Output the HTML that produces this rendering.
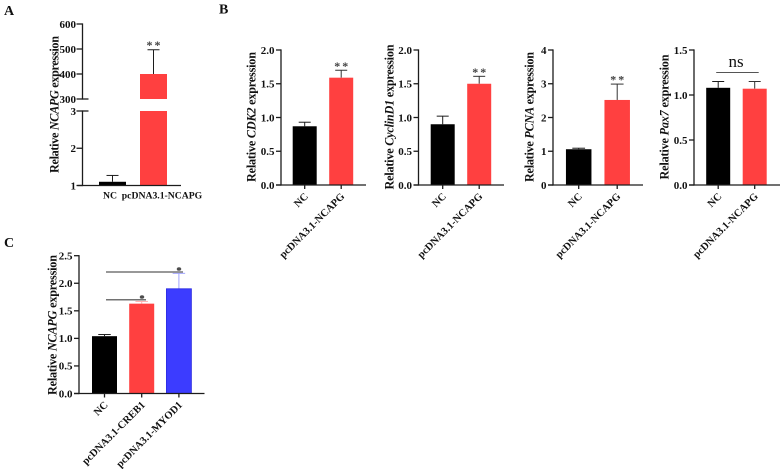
<!DOCTYPE html>
<html>
<head>
<meta charset="utf-8">
<style>
html,body{margin:0;padding:0;background:#fff;}
svg{display:block;filter:blur(0.35px);}
text{font-family:"Liberation Serif",serif;fill:#111;font-weight:bold;}
</style>
</head>
<body>
<svg id="figure" width="784" height="469" viewBox="0 0 784 469" xmlns="http://www.w3.org/2000/svg"></svg>
<script>
var categoriesPair = ['NC', 'pcDNA3.1-NCAPG'];
var categoriesC = ['NC', 'pcDNA3.1-CREB1', 'pcDNA3.1-MYOD1'];

var valuesA = [1.1, 400];
var errorsA = [1.27, 497];
var lowerTicksA = [1, 2, 3];
var upperTicksA = [300, 400, 500, 600];

var valuesCDK2 = [0.87, 1.59];
var errorsCDK2 = [0.93, 1.70];
var valuesCyclin = [0.90, 1.50];
var errorsCyclin = [1.02, 1.61];
var valuesPCNA = [1.06, 2.52];
var errorsPCNA = [1.09, 2.99];
var valuesPax7 = [1.08, 1.07];
var errorsPax7 = [1.15, 1.15];
var valuesC = [1.04, 1.63, 1.90];
var errorsC = [1.07, 1.67, 2.18];

var ticksTwo = ['0.0', '0.5', '1.0', '1.5', '2.0'];
var ticksFour = ['0', '1', '2', '3', '4'];
var ticksOneHalf = ['0.0', '0.5', '1.0', '1.5'];
var ticksC = ['0.0', '0.5', '1.0', '1.5', '2.0', '2.5'];

var NS = 'http://www.w3.org/2000/svg';
var root = document.getElementById('figure');
var INK = '#1c1c1c';
var RED = '#ff4040';
var BLUE = '#3c3cff';

function shape(tag, props, name, parent) {
  var el = document.createElementNS(NS, tag);
  for (var k in props) { el.setAttribute(k, props[k]); }
  
  
  (parent || root).appendChild(el);
  return el;
}
function line(x1, y1, x2, y2, w, color, name, parent) {
  return shape('line', {x1: x1, y1: y1, x2: x2, y2: y2, stroke: color || INK, 'stroke-width': w}, name, parent);
}
function label(x, y, str, size, anchor, name, parent) {
  var el = shape('text', {x: x, y: y, 'font-size': size, 'text-anchor': anchor || 'middle'}, name, parent);
  el.textContent = str;
  return el;
}
function stars(x, y, parent) {
  var el = label(x + 1, y, '**', 12, 'middle', 'significance-stars', parent);
  el.setAttribute('letter-spacing', '2');
  el.setAttribute('style', 'fill:#444');
  return el;
}
function yTitle(cx, cy, length, gene, name, parent) {
  var el = shape('text', {
    x: 0, y: 0, 'font-size': 12.2, 'text-anchor': 'middle',
    textLength: length, lengthAdjust: 'spacing',
    transform: 'translate(' + cx + ',' + cy + ') rotate(-90)'
  }, name, parent);
  el.appendChild(document.createTextNode('Relative '));
  var it = document.createElementNS(NS, 'tspan');
  it.setAttribute('font-style', 'italic');
  it.textContent = gene;
  el.appendChild(it);
  el.appendChild(document.createTextNode(' expression'));
}
function rotatedLabel(x, y, str, parent) {
  var el = shape('text', {
    x: 0, y: 0, 'font-size': 10.5, 'text-anchor': 'end',
    transform: 'translate(' + x + ',' + y + ') rotate(-45)'
  }, 'x-label-' + str.toLowerCase(), parent);
  el.textContent = str;
}
function errorBar(x, y0, y1, cap, color, name, parent) {
  line(x, y0, x, y1, 1, color, name + '-error-stem', parent);
  line(x - cap, y1, x + cap, y1, 1, color, name + '-error-cap', parent);
}

/* Standard panel: zero-based linear axis */
function panel(cfg) {
  var g = shape('g', {}, cfg.name);
  var maxTick = parseFloat(cfg.ticks[cfg.ticks.length - 1]);
  var minTick = parseFloat(cfg.ticks[0]);
  function yScale(v) {
    return cfg.bottom - (v - minTick) / (maxTick - minTick) * (cfg.bottom - cfg.top);
  }
  function xCenter(i) { return cfg.firstX + i * cfg.step; }

  cfg.values.forEach(function (v, i) {
    var cx = xCenter(i);
    var cats = cfg.categories[i].toLowerCase();
    var color = cfg.colors[i];
    errorBar(cx, yScale(v), yScale(cfg.errors[i]), cfg.barW / 4, cfg.errColors[i], 'bar-' + cats, g);
    var bar = shape('rect', {
      x: cx - cfg.barW / 2, y: yScale(v), width: cfg.barW, height: cfg.bottom - yScale(v),
      fill: color
    }, 'bar-' + cats, g);
    if (color === BLUE) {
      bar.setAttribute('stroke', '#2a2ae0');
      bar.setAttribute('stroke-width', '0.8');
    }
    line(cx, cfg.bottom, cx, cfg.bottom + 4, 1.3, INK, 'x-tick-' + cats, g);
    rotatedLabel(cx + cfg.labelDx, cfg.bottom + 12, cfg.categories[i], g);
  });

  line(cfg.axisX, cfg.top - 0.6, cfg.axisX, cfg.bottom + 0.6, 1.3, INK, 'y-axis', g);
  line(cfg.axisX - 5, cfg.bottom, cfg.xEnd, cfg.bottom, 1.3, INK, 'x-axis', g);
  cfg.ticks.forEach(function (t) {
    var y = yScale(parseFloat(t));
    line(cfg.axisX - 5, y, cfg.axisX, y, 1.3, INK, 'y-tick-' + t, g);
    label(cfg.axisX - 6.5, y + 3.8, t, 11, 'end', 'y-tick-label-' + t, g);
  });
  yTitle(cfg.titleX, cfg.titleY, cfg.titleLen, cfg.gene, 'y-axis-title', g);
  return {yScale: yScale, xCenter: xCenter, g: g};
}

/* Panel A: broken axis */
(function () {
  var g = shape('g', {}, 'panel-a-chart');
  var axisX = 82.5, base = 185.5, lowTop = 111, upBottom = 99, upTop = 24, xEnd = 181;
  var lowMin = lowerTicksA[0], lowMax = lowerTicksA[lowerTicksA.length - 1];
  var upMin = upperTicksA[0], upMax = upperTicksA[upperTicksA.length - 1];
  function yLow(v) { return base - (v - lowMin) / (lowMax - lowMin) * (base - lowTop); }
  function yUp(v) { return upBottom - (v - upMin) / (upMax - upMin) * (upBottom - upTop); }
  function xc(i) { return 112.5 + i * 41; }
  var barW = 27;

  /* NC bar sits on the lower segment */
  errorBar(xc(0), yLow(valuesA[0]), yLow(errorsA[0]), barW / 4.5, INK, 'bar-nc', g);
  shape('rect', {x: xc(0) - barW / 2, y: yLow(valuesA[0]), width: barW, height: base - yLow(valuesA[0]), fill: '#000'}, 'bar-nc', g);

  /* Treated bar spans both segments */
  errorBar(xc(1), yUp(valuesA[1]), yUp(errorsA[1]), barW / 4.5, INK, 'bar-pcdna-upper', g);
  shape('rect', {x: xc(1) - barW / 2, y: yUp(valuesA[1]), width: barW, height: upBottom - yUp(valuesA[1]), fill: RED}, 'bar-pcdna-upper', g);
  shape('rect', {x: xc(1) - barW / 2, y: lowTop, width: barW, height: base - lowTop, fill: RED}, 'bar-pcdna-lower', g);

  line(axisX, upTop - 0.6, axisX, upBottom + 0.6, 1.3, INK, 'y-axis-upper', g);
  line(axisX, lowTop - 0.6, axisX, base + 0.6, 1.3, INK, 'y-axis-lower', g);
  line(axisX - 5, base, xEnd, base, 1.3, INK, 'x-axis', g);

  upperTicksA.forEach(function (t) {
    line(axisX - 6, yUp(t), axisX + (t === upMin ? 6 : 0), yUp(t), 1.3, INK, 'y-tick-' + t, g);
    label(axisX - 6.5, yUp(t) + 3.8, String(t), 11, 'end', 'y-tick-label-' + t, g);
  });
  lowerTicksA.forEach(function (t) {
    line(axisX - 6, yLow(t), axisX + (t === lowMax ? 6 : 0), yLow(t), 1.3, INK, 'y-tick-' + t, g);
    label(axisX - 6.5, yLow(t) + 3.8, String(t), 11, 'end', 'y-tick-label-' + t, g);
  });

  label(110, 198.5, categoriesPair[0], 9.7, 'middle', 'x-label-nc', g);
  label(162, 198.5, categoriesPair[1], 9.7, 'middle', 'x-label-pcdna3-1-ncapg', g);
  yTitle(58.5, 104.5, 137, 'NCAPG', 'y-axis-title', g);
  stars(xc(1), 49, g);
})();

/* Panel B */
var redPair = ['#000', RED];
var errPair = [INK, '#333'];

var cdk = panel({name: 'panel-b-cdk2', categories: categoriesPair, values: valuesCDK2, errors: errorsCDK2, ticks: ticksTwo,
  axisX: 281, top: 50, bottom: 185, xEnd: 366, firstX: 304.7, step: 36.5, barW: 24,
  colors: redPair, errColors: errPair, labelDx: 4, titleX: 255.5, titleY: 117, titleLen: 130, gene: 'CDK2'});
stars(cdk.xCenter(1), yStar(cdk, errorsCDK2[1]), cdk.g);

var cyc = panel({name: 'panel-b-cyclind1', categories: categoriesPair, values: valuesCyclin, errors: errorsCyclin, ticks: ticksTwo,
  axisX: 418.5, top: 50, bottom: 185, xEnd: 504, firstX: 442.7, step: 36.5, barW: 24,
  colors: redPair, errColors: errPair, labelDx: 4, titleX: 393.5, titleY: 117, titleLen: 145, gene: 'CyclinD1'});
stars(cyc.xCenter(1), yStar(cyc, errorsCyclin[1]), cyc.g);

var pc = panel({name: 'panel-b-pcna', categories: categoriesPair, values: valuesPCNA, errors: errorsPCNA, ticks: ticksFour,
  axisX: 553, top: 50, bottom: 185, xEnd: 643, firstX: 578.7, step: 38.5, barW: 25.5,
  colors: redPair, errColors: errPair, labelDx: 4, titleX: 533.5, titleY: 117, titleLen: 130, gene: 'PCNA'});
stars(pc.xCenter(1), yStar(pc, errorsPCNA[1]), pc.g);

var pax = panel({name: 'panel-b-pax7', categories: categoriesPair, values: valuesPax7, errors: errorsPax7, ticks: ticksOneHalf,
  axisX: 694, top: 50, bottom: 185, xEnd: 780, firstX: 718.2, step: 36.5, barW: 24,
  colors: redPair, errColors: errPair, labelDx: 4, titleX: 668.5, titleY: 117, titleLen: 125, gene: 'Pax7'});
line(pax.xCenter(0) - 2, 72.5, pax.xCenter(1) + 4, 72.5, 1, '#555', 'significance-line', pax.g);
var nsLabel = label(736, 67, 'ns', 17, 'middle', 'significance-ns', pax.g);
nsLabel.setAttribute('style', 'font-weight:normal');

function yStar(p, err) { return p.yScale(err) - 0.5; }

/* Panel C */
var pc3 = panel({name: 'panel-c-chart', categories: categoriesC, values: valuesC, errors: errorsC, ticks: ticksC,
  axisX: 79, top: 255.7, bottom: 393.5, xEnd: 204.5, firstX: 104.5, step: 37.2, barW: 25,
  colors: ['#000', RED, BLUE], errColors: [INK, '#ffb0b0', '#a0a4ff'], labelDx: 4, titleX: 56.5, titleY: 325, titleLen: 140, gene: 'NCAPG'});
line(106, 299.8, 146, 299.8, 1.2, '#444', 'significance-line-creb1', pc3.g);
line(106, 272, 183, 272, 1.4, '#777', 'significance-line-myod1', pc3.g);
label(142, 302, '*', 11, 'middle', 'significance-star-creb1', pc3.g);
label(179, 274, '*', 11, 'middle', 'significance-star-myod1', pc3.g);

/* Panel letters */
label(4, 15, 'A', 14, 'start', 'panel-letter-a');
label(219, 13.5, 'B', 14, 'start', 'panel-letter-b');
label(4, 247, 'C', 14, 'start', 'panel-letter-c');
</script>
</body>
</html>
